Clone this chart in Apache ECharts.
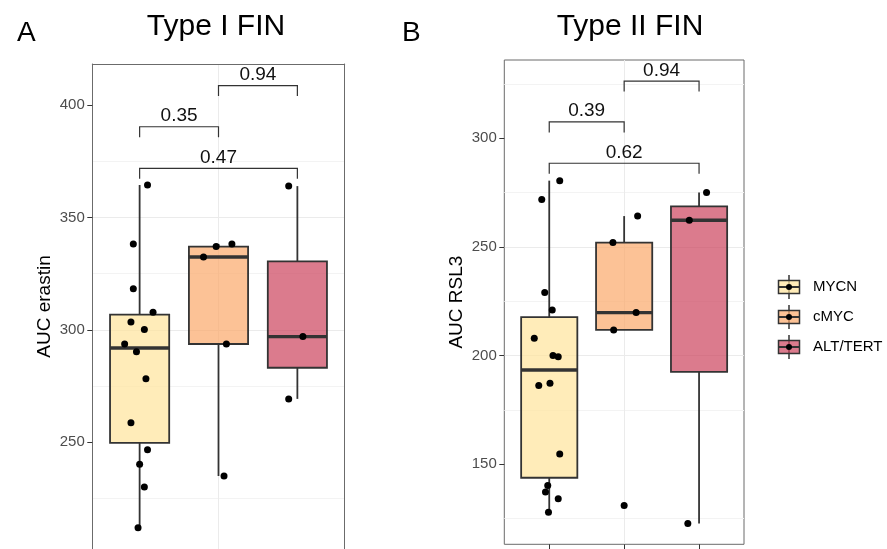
<!DOCTYPE html>
<html>
<head>
<meta charset="utf-8">
<script src="https://cdn.jsdelivr.net/npm/echarts@6/dist/echarts.min.js"></script>
<style>
  html, body { margin: 0; padding: 0; background: #ffffff; }
  #chart { width: 887px; height: 549px; }
</style>
</head>
<body>
<div id="chart"></div>
<script>
// ---- data -------------------------------------------------------------
const groups = ['MYCN', 'cMYC', 'ALT/TERT'];

// Type I FIN: AUC erastin per cell line, with the horizontal jitter of each dot
const erastinMYCN = [364.4, 338.2, 318.3, 307.8, 303.5, 300.2, 293.7, 290.2, 278.2, 258.7, 246.7, 240.2, 230.1, 212.0];
const erastinMYCNJitter = [0.10, -0.08, -0.08, 0.17, -0.11, 0.06, -0.19, -0.04, 0.08, -0.11, 0.10, 0.00, 0.06, -0.02];
const erastinCMYC = [337.0, 338.2, 332.4, 293.7, 235.0];
const erastinCMYCJitter = [-0.03, 0.17, -0.19, 0.10, 0.07];
const erastinALT = [363.9, 297.0, 269.3];
const erastinALTJitter = [-0.11, 0.07, -0.11];

// Type II FIN: AUC RSL3
const rsl3MYCN = [280.5, 271.8, 229.0, 221.0, 208.0, 200.0, 199.5, 187.3, 186.2, 154.7, 140.2, 137.3, 134.2, 127.9];
const rsl3MYCNJitter = [0.14, -0.10, -0.06, 0.04, -0.20, 0.05, 0.12, 0.01, -0.14, 0.14, -0.02, -0.05, 0.12, -0.01];
const rsl3CMYC = [264.2, 252.0, 219.8, 211.8, 131.1];
const rsl3CMYCJitter = [0.18, -0.15, 0.16, -0.14, 0.00];
const rsl3ALT = [275.0, 262.3, 122.8];
const rsl3ALTJitter = [0.10, -0.13, -0.15];

// pairwise comparisons: group pairs, bracket height, p-value
const comparePairs = [[1, 2], [2, 3], [1, 3]];
const erastinBracketY = [390.3, 408.6, 371.8];
const erastinP = ['0.35', '0.94', '0.47'];
const rsl3BracketY = [307.5, 326.3, 288.5];
const rsl3P = ['0.39', '0.94', '0.62'];

// axis limits and labelled ticks (the erastin panel runs on past the bottom edge)
const erastinRange = [202.55, 418.2];
const erastinTicks = [250, 300, 350, 400];
const rsl3Range = [113.2, 336.0];
const rsl3Ticks = [150, 200, 250, 300];

// ---- styling ----------------------------------------------------------
const FONT = '"Liberation Sans", Arial, Helvetica, sans-serif';
const fills = ['rgba(255,228,155,0.7)', 'rgba(251,168,106,0.7)', 'rgba(204,67,92,0.7)'];
const INK = '#333333';
const FRAME = '#6b6b6b';
const BOX_HALF = 0.375;
const TIP = 10.5;

// ---- helpers ----------------------------------------------------------
function quantile(sorted, p) {
  const h = (sorted.length - 1) * p;
  const lo = Math.floor(h);
  const hiV = lo + 1 < sorted.length ? sorted[lo + 1] : sorted[lo];
  return sorted[lo] + (h - lo) * (hiV - sorted[lo]);
}
function boxStats(x, vals) {
  const s = vals.slice().sort((a, b) => a - b);
  const q1 = quantile(s, 0.25), med = quantile(s, 0.5), q3 = quantile(s, 0.75);
  const iqr = q3 - q1;
  const inside = s.filter(v => v >= q1 - 1.5 * iqr && v <= q3 + 1.5 * iqr);
  const lo = Math.min(q1, inside[0]);
  const hi = Math.max(q3, inside[inside.length - 1]);
  return [x, lo, q1, med, q3, hi];
}

function renderBox(params, api) {
  const x = api.value(0);
  const lo = api.value(1), q1 = api.value(2), med = api.value(3), q3 = api.value(4), hi = api.value(5);
  const tl = api.coord([x - BOX_HALF, q3]);
  const br = api.coord([x + BOX_HALF, q1]);
  const top = api.coord([x, hi]), cq3 = api.coord([x, q3]);
  const cq1 = api.coord([x, q1]), bot = api.coord([x, lo]);
  const ml = api.coord([x - BOX_HALF, med]), mr = api.coord([x + BOX_HALF, med]);
  return {
    type: 'group',
    children: [
      { type: 'line', shape: { x1: top[0], y1: top[1], x2: cq3[0], y2: cq3[1] }, style: { stroke: INK, lineWidth: 1.8 } },
      { type: 'line', shape: { x1: cq1[0], y1: cq1[1], x2: bot[0], y2: bot[1] }, style: { stroke: INK, lineWidth: 1.8 } },
      { type: 'rect', shape: { x: tl[0], y: tl[1], width: br[0] - tl[0], height: br[1] - tl[1] },
        style: { fill: fills[params.dataIndex], stroke: INK, lineWidth: 1.8 } },
      { type: 'line', shape: { x1: ml[0], y1: ml[1], x2: mr[0], y2: mr[1] }, style: { stroke: INK, lineWidth: 3.4 } }
    ]
  };
}

function renderBracket(params, api) {
  const a = api.coord([api.value(0), api.value(2)]);
  const b = api.coord([api.value(1), api.value(2)]);
  const label = params.context.labels[params.dataIndex];
  return {
    type: 'group',
    children: [
      { type: 'polyline', shape: { points: [[a[0], a[1] + TIP], a, b, [b[0], b[1] + TIP]] },
        style: { stroke: INK, lineWidth: 1.2, fill: null } },
      { type: 'text', x: (a[0] + b[0]) / 2, y: a[1] - 10.8,
        style: { text: label, fontSize: 19, fontFamily: FONT, fill: '#111', align: 'center', verticalAlign: 'middle' } }
    ]
  };
}

function pointsOf(valueLists, jitterLists) {
  const out = [];
  valueLists.forEach((vals, g) => {
    vals.forEach((v, i) => out.push([g + 1 + jitterLists[g][i], v]));
  });
  return out;
}

const splitStyle = { show: true, showMinLine: false, showMaxLine: false, lineStyle: { color: '#EBEBEB', width: 1 } };

function xAxisFor(gridIndex, framedTop) {
  return {
    gridIndex, type: 'value', min: 0.4, max: 3.6, minInterval: 1, maxInterval: 1,
    position: framedTop ? 'top' : 'bottom',
    axisLine: { show: framedTop, lineStyle: { color: FRAME, width: 1 } },
    axisLabel: { show: false },
    axisTick: { show: !framedTop, customValues: [1, 2, 3], length: 5, lineStyle: { color: INK, width: 1 } },
    splitLine: splitStyle
  };
}

function yAxisFor(gridIndex, range, ticks, title, framedLeft) {
  return {
    gridIndex, type: 'value', min: range[0], max: range[1], minInterval: 50, maxInterval: 50,
    name: title, nameLocation: 'middle', nameGap: 38, nameRotate: 90,
    nameTextStyle: { fontSize: 19, fontFamily: FONT, color: '#000' },
    axisLine: { show: framedLeft, lineStyle: { color: FRAME, width: 1 } },
    axisTick: { show: true, customValues: ticks, length: 5, lineStyle: { color: INK, width: 1 } },
    axisLabel: { customValues: ticks, fontSize: 15, fontFamily: FONT, color: '#4D4D4D', margin: 7.5 },
    splitLine: splitStyle,
    minorTick: { show: false, splitNumber: 2 },
    minorSplitLine: { show: true, lineStyle: { color: '#F3F3F3', width: 1 } }
  };
}

function panelSeries(axisIndex, valueLists, jitterLists, bracketY, pLabels) {
  const boxes = valueLists.map((vals, g) => boxStats(g + 1, vals));
  const brackets = comparePairs.map((pr, i) => [pr[0], pr[1], bracketY[i]]);
  return [
    { type: 'custom', xAxisIndex: axisIndex, yAxisIndex: axisIndex, z: 2, silent: true,
      renderItem: renderBox, data: boxes, encode: { x: 0, y: [1, 2, 3, 4, 5] } },
    { type: 'scatter', xAxisIndex: axisIndex, yAxisIndex: axisIndex, z: 3, silent: true,
      symbol: 'circle', symbolSize: 7, itemStyle: { color: '#000', opacity: 1 },
      data: pointsOf(valueLists, jitterLists) },
    { type: 'custom', xAxisIndex: axisIndex, yAxisIndex: axisIndex, z: 4, silent: true,
      renderItem: (params, api) => { params.context.labels = pLabels; return renderBracket(params, api); },
      data: brackets, encode: { x: [0, 1], y: 2 } }
  ];
}

// ---- chart ------------------------------------------------------------
const option = {
  animation: false,
  backgroundColor: '#ffffff',
  title: [
    { text: 'A', left: 12, top: 14, textStyle: { fontSize: 28, fontWeight: 'normal', fontFamily: FONT, color: '#000' } },
    { text: 'Type I FIN', left: 211, top: 7, textAlign: 'center', textStyle: { fontSize: 30, fontWeight: 'normal', fontFamily: FONT, color: '#000' } },
    { text: 'B', left: 397, top: 14, textStyle: { fontSize: 28, fontWeight: 'normal', fontFamily: FONT, color: '#000' } },
    { text: 'Type II FIN', left: 625, top: 7, textAlign: 'center', textStyle: { fontSize: 30, fontWeight: 'normal', fontFamily: FONT, color: '#000' } }
  ],
  grid: [
    // erastin panel: framed on three sides by its axes, the bottom edge is out of view
    { left: 92.3, top: 64, width: 252.4, height: 485 },
    { left: 504.3, top: 60, width: 239.7, height: 484.3, show: true, backgroundColor: 'transparent', borderColor: FRAME, borderWidth: 1 },
    { left: 776, top: 272, width: 26, height: 90 }
  ],
  xAxis: [
    xAxisFor(0, true),
    xAxisFor(1, false),
    { gridIndex: 2, type: 'value', min: 0, max: 1, show: false }
  ],
  yAxis: [
    yAxisFor(0, erastinRange, erastinTicks, 'AUC erastin', true),
    yAxisFor(1, rsl3Range, rsl3Ticks, 'AUC RSL3', false),
    { gridIndex: 2, type: 'category', data: groups, inverse: true, position: 'right',
      axisLine: { show: false }, axisTick: { show: false }, splitLine: { show: false },
      axisLabel: { fontSize: 15, fontFamily: FONT, color: '#000', margin: 11, align: 'left' } },
    // right-hand edge of the erastin panel
    { gridIndex: 0, type: 'value', min: erastinRange[0], max: erastinRange[1], position: 'right',
      axisLine: { show: true, lineStyle: { color: FRAME, width: 1 } },
      axisTick: { show: false }, axisLabel: { show: false }, splitLine: { show: false } }
  ],
  series: [
    ...panelSeries(0, [erastinMYCN, erastinCMYC, erastinALT], [erastinMYCNJitter, erastinCMYCJitter, erastinALTJitter], erastinBracketY, erastinP),
    ...panelSeries(1, [rsl3MYCN, rsl3CMYC, rsl3ALT], [rsl3MYCNJitter, rsl3CMYCJitter, rsl3ALTJitter], rsl3BracketY, rsl3P),
    // legend keys: box, median, whiskers and a dot for each group
    { type: 'custom', xAxisIndex: 2, yAxisIndex: 2, silent: true,
      data: groups.map(g => [0.5, g]),
      renderItem: (params, api) => {
        const c = api.coord([0.5, api.value(1)]);
        return {
          type: 'group',
          children: [
            { type: 'line', shape: { x1: c[0], y1: c[1] - 12, x2: c[0], y2: c[1] + 12 }, style: { stroke: INK, lineWidth: 1.5 } },
            { type: 'rect', shape: { x: c[0] - 10.5, y: c[1] - 6.5, width: 21, height: 13 },
              style: { fill: fills[params.dataIndex], stroke: INK, lineWidth: 1.5 } },
            { type: 'line', shape: { x1: c[0] - 10.5, y1: c[1], x2: c[0] + 10.5, y2: c[1] }, style: { stroke: INK, lineWidth: 2 } },
            { type: 'circle', shape: { cx: c[0], cy: c[1], r: 3 }, style: { fill: '#000' } }
          ]
        };
      } }
  ]
};

const chart = echarts.init(document.getElementById('chart'), null, { renderer: 'canvas' });
chart.setOption(option);
</script>
</body>
</html>
